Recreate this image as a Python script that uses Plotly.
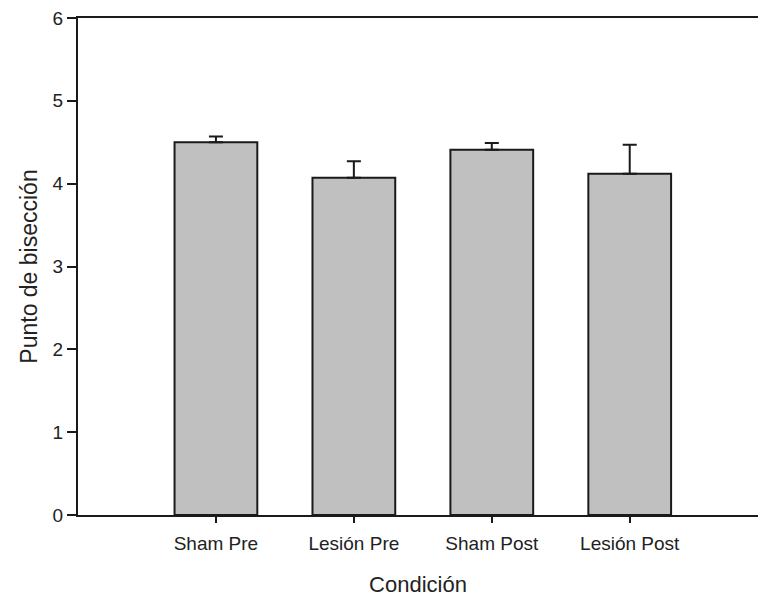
import plotly.graph_objects as go

categories = ["Sham Pre", "Lesión Pre", "Sham Post", "Lesión Post"]
means = [4.50, 4.07, 4.41, 4.12]
sem = [0.07, 0.20, 0.08, 0.35]
y_ticks = [0, 1, 2, 3, 4, 5, 6]

fig = go.Figure()
fig.add_trace(go.Bar(
    x=list(range(len(categories))),
    y=means,
    width=0.6,
    marker=dict(color="#c0c0c0", line=dict(color="#1a1a1a", width=2)),
    error_y=dict(type="data", symmetric=False, array=sem,
                 arrayminus=[0] * len(sem), color="#1a1a1a",
                 thickness=2, width=7),
    showlegend=False,
))

family = "Arial, Liberation Sans, sans-serif"
tick_font = dict(family=family, size=19, color="#222")
fig.update_layout(
    width=758, height=597,
    margin=dict(l=78, r=0, t=18, b=82),
    plot_bgcolor="white", paper_bgcolor="white",
    font=tick_font,
    bargap=0.4,
)
fig.update_xaxes(
    range=[-1, 3.93],
    tickvals=list(range(len(categories))),
    ticktext=categories,
    ticks="outside", ticklen=6, tickwidth=1.5, tickcolor="#1a1a1a",
    ticklabelstandoff=4,
    showline=True, linecolor="#1a1a1a", linewidth=2, mirror=True,
    showgrid=False, zeroline=False,
    tickfont=tick_font,
    title=dict(text="Condición", font=dict(family=family, size=22, color="#222"),
               standoff=24),
)
fig.update_yaxes(
    range=[0, 6],
    tickvals=y_ticks,
    ticks="outside", ticklen=9, tickwidth=1.5, tickcolor="#1a1a1a",
    showline=True, linecolor="#1a1a1a", linewidth=2,
    showgrid=False, zeroline=False,
    tickfont=tick_font,
    title=dict(text="Punto de bisección", font=dict(family=family, size=23, color="#222"),
               standoff=9),
)

fig.write_html("out.html")
